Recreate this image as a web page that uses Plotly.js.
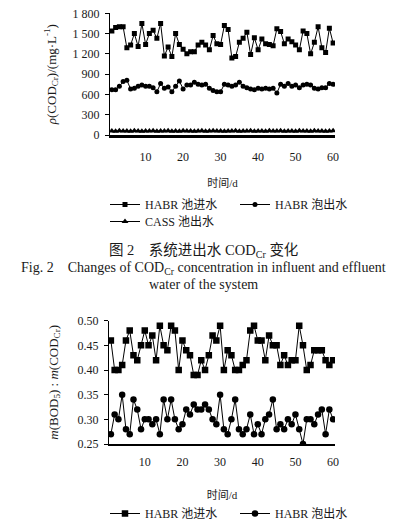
<!DOCTYPE html>
<html><head><meta charset="utf-8">
<script src="https://cdn.plot.ly/plotly-3.0.1.min.js"></script>
<style>html,body{margin:0;padding:0;background:#fff}#chart{width:396px;height:532px}</style>
</head><body><div id="chart"></div>
<script>
// ---- data ----
const days = [1,2,3,4,5,6,7,8,9,10,11,12,13,14,15,16,17,18,19,20,21,22,23,24,25,26,27,28,29,30,
  31,32,33,34,35,36,37,38,39,40,41,42,43,44,45,46,47,48,49,50,51,52,53,54,55,56,57,58,59,60];

// Fig.2 COD_Cr (mg/L)
const codHabrIn = [1540,1590,1600,1600,1290,1330,1500,1310,1650,1340,
  1500,1550,1430,1650,1170,1300,1160,1500,1340,1270,
  1200,1230,1230,1330,1370,1330,1260,1470,1350,1340,
  1620,1560,1140,1160,1370,1430,1520,1190,1440,1260,
  1420,1350,1340,1320,1570,1530,1350,1420,1380,1330,
  1260,1540,1500,1200,1370,1600,1290,1220,1580,1360];
const codHabrOut = [670,670,720,790,810,680,690,720,740,720,
  720,700,640,760,690,710,640,720,800,680,
  740,740,780,750,740,750,690,660,640,640,
  750,740,720,740,780,720,700,680,670,690,
  680,690,680,690,620,750,720,760,720,740,
  700,740,750,740,690,680,700,700,760,750];
const codCassOut = [60,55,62,58,60,57,63,59,55,61,58,62,56,60,59,63,57,60,55,62,
  58,61,57,60,63,56,59,62,58,60,57,61,59,63,56,60,58,62,57,61,
  59,55,62,60,58,63,57,61,59,56,62,58,60,57,63,59,61,56,60,62];
const codTicks = [0,300,600,900,1200,1500,1800];
const codTickText = ["0","300","600","900","1 200","1 500","1 800"];

// BOD5 : COD_Cr ratio
const ratioHabrIn = [0.46,0.40,0.40,0.41,0.46,0.48,0.43,0.42,0.45,0.48,
  0.45,0.47,0.42,0.49,0.45,0.44,0.49,0.48,0.40,0.46,
  0.44,0.43,0.39,0.39,0.42,0.40,0.43,0.47,0.46,0.49,
  0.40,0.44,0.43,0.40,0.40,0.41,0.42,0.48,0.49,0.46,
  0.46,0.42,0.47,0.45,0.45,0.41,0.43,0.41,0.42,0.42,
  0.49,0.45,0.40,0.41,0.44,0.44,0.44,0.42,0.41,0.42];
const ratioHabrOut = [0.27,0.31,0.30,0.35,0.28,0.27,0.34,0.32,0.28,0.30,
  0.30,0.29,0.30,0.27,0.34,0.30,0.34,0.30,0.28,0.29,
  0.32,0.31,0.33,0.32,0.32,0.33,0.32,0.30,0.29,0.35,
  0.28,0.27,0.30,0.34,0.28,0.27,0.28,0.31,0.27,0.29,
  0.27,0.30,0.31,0.34,0.28,0.29,0.28,0.30,0.29,0.31,
  0.28,0.25,0.30,0.30,0.29,0.31,0.32,0.27,0.32,0.30];
const ratioTicks = [0.25,0.30,0.35,0.40,0.45,0.50];
const ratioTickText = ["0.25","0.30","0.35","0.40","0.45","0.50"];
const dayTicks = [10,20,30,40,50,60];

const names = ["HABR 池进水","HABR 泡出水","CASS 池出水"];

// ---- layout helpers ----
const W = 396, H = 532;
const px = v => v / W, py = v => 1 - v / H;
const SERIF = "Liberation Serif, 'Noto Sans CJK SC', serif";
const TXT = '#1a1a1a';

const line = {color:'#000', width:1};
const traces = [
  {x:days, y:codHabrIn, name:names[0], type:'scatter', mode:'lines+markers', xaxis:'x', yaxis:'y',
   line:line, marker:{symbol:'square', size:5, color:'#000'}, legend:'legend'},
  {x:days, y:codHabrOut, name:names[1], type:'scatter', mode:'lines+markers', xaxis:'x', yaxis:'y',
   line:line, marker:{symbol:'circle', size:5, color:'#000'}, legend:'legend2'},
  {x:days, y:codCassOut, name:names[2], type:'scatter', mode:'lines+markers', xaxis:'x', yaxis:'y',
   line:line, marker:{symbol:'triangle-up', size:6, color:'#000'}, legend:'legend3'},
  {x:days, y:ratioHabrIn, name:names[0], type:'scatter', mode:'lines+markers', xaxis:'x2', yaxis:'y2',
   line:line, marker:{symbol:'square', size:6.5, color:'#000'}, legend:'legend4'},
  {x:days, y:ratioHabrOut, name:names[1], type:'scatter', mode:'lines+markers', xaxis:'x2', yaxis:'y2',
   line:line, marker:{symbol:'circle', size:6.5, color:'#000'}, legend:'legend5'}
];

const xCommon = {range:[0.5,60.5], tickvals:dayTicks, ticks:'', showgrid:false, zeroline:false,
  showline:true, linecolor:'#000', tickfont:{family:SERIF, size:12, color:TXT}};
const yCommon = {ticks:'outside', ticklen:4, tickcolor:'#000', showgrid:false, zeroline:false,
  showline:true, linecolor:'#000', linewidth:1, ticklabelstandoff:3, tickfont:{family:SERIF, size:12, color:TXT}};
const xTitleFont = {family:SERIF, size:11, color:TXT};

const legendCommon = {orientation:'h', font:{family:SERIF, size:12, color:TXT}, bgcolor:'rgba(0,0,0,0)',
  xanchor:'left', yanchor:'top', borderwidth:0};

const layout = {
  width:W, height:H, margin:{l:0,r:0,t:0,b:0,autoexpand:false}, paper_bgcolor:'#fff', plot_bgcolor:'#fff',
  showlegend:true,
  xaxis:Object.assign({}, xCommon, {domain:[px(110), px(335)], anchor:'y', linewidth:2.5,
    ticklabelstandoff:9, title:{text:'时间/d', font:xTitleFont, standoff:17}}),
  yaxis:Object.assign({}, yCommon, {domain:[py(135), py(13.3)], anchor:'x', range:[0,1800],
    tickvals:codTicks, ticktext:codTickText,
    title:{text:'<i>ρ</i>(COD<sub>Cr</sub>)/(mg·L<sup>-1</sup>)', font:{family:SERIF, size:13, color:TXT}, standoff:13}}),
  xaxis2:Object.assign({}, xCommon, {domain:[px(109), px(335)], anchor:'y2', linewidth:2,
    ticklabelstandoff:6, title:{text:'时间/d', font:xTitleFont, standoff:23}}),
  yaxis2:Object.assign({}, yCommon, {domain:[py(444), py(320.7)], anchor:'x2', range:[0.25,0.50],
    tickvals:ratioTicks, ticktext:ratioTickText,
    title:{text:'<i>m</i>(BOD<sub>5</sub>) : <i>m</i>(COD<sub>Cr</sub>)', font:{family:SERIF, size:13, color:TXT}, standoff:16}}),
  legend:Object.assign({}, legendCommon, {x:px(105), y:py(190)}),
  legend2:Object.assign({}, legendCommon, {x:px(235), y:py(190)}),
  legend3:Object.assign({}, legendCommon, {x:px(105), y:py(207)}),
  legend4:Object.assign({}, legendCommon, {x:px(105), y:py(499)}),
  legend5:Object.assign({}, legendCommon, {x:px(235), y:py(499)}),
  annotations:[
    {text:'图 2　系统进出水 COD<sub>Cr</sub> 变化', x:px(203), y:py(251), xref:'paper', yref:'paper',
     showarrow:false, xanchor:'center', yanchor:'middle', font:{family:SERIF, size:14.5, color:TXT}},
    {text:'Fig. 2　Changes of COD<sub>Cr</sub> concentration in influent and effluent', x:px(203), y:py(268),
     xref:'paper', yref:'paper', showarrow:false, xanchor:'center', yanchor:'middle', font:{family:SERIF, size:14, color:TXT}},
    {text:'water of the system', x:px(203), y:py(284), xref:'paper', yref:'paper',
     showarrow:false, xanchor:'center', yanchor:'middle', font:{family:SERIF, size:14, color:TXT}}
  ]
};

Plotly.newPlot('chart', traces, layout, {displayModeBar:false, staticPlot:true});
</script></body></html>
